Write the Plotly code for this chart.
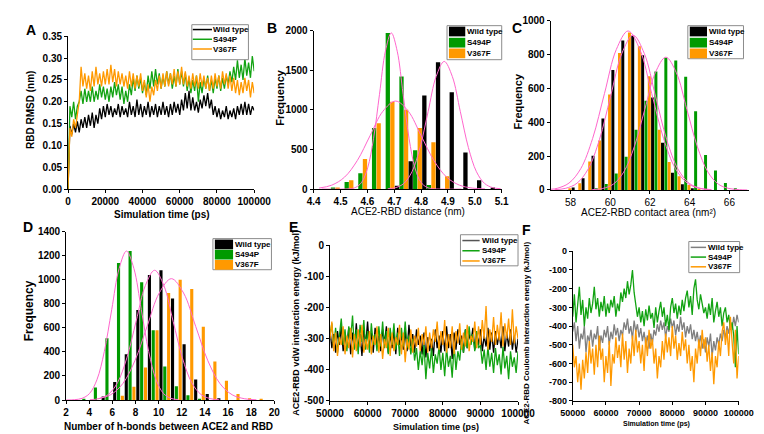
import numpy as np
import plotly.graph_objects as go

W, H = 764, 434
FONT = "Arial, 'Liberation Sans', Helvetica, sans-serif"

C_WT = '#000000'
C_S494P = '#12a312'
C_S494P_BAR = '#009a00'
C_V367F = '#ff9900'
C_FIT = '#ff66cc'
C_WT_F = '#7f7f7f'
C_WT_E_LEG = '#555555'

names = ['Wild type', 'S494P', 'V367F']

# ---------------- Panel A : RBD RMSD (nm), 0..100000 ps ----------------
rmsd_wt = [0.00,
    0.145, 0.125, 0.15, 0.13, 0.155, 0.13, 0.16, 0.14, 0.165, 0.14,
    0.17, 0.145, 0.175, 0.14, 0.17, 0.15, 0.185, 0.16, 0.19, 0.165,
    0.195, 0.17, 0.19, 0.165, 0.185, 0.17, 0.195, 0.165, 0.19, 0.17,
    0.185, 0.165, 0.2, 0.17, 0.19, 0.165, 0.205, 0.17, 0.195, 0.165,
    0.19, 0.17, 0.2, 0.165, 0.19, 0.17, 0.195, 0.165, 0.19, 0.17,
    0.2, 0.17, 0.19, 0.165, 0.195, 0.17, 0.2, 0.175, 0.195, 0.17,
    0.205, 0.18, 0.22, 0.185, 0.225, 0.18, 0.21, 0.18, 0.2, 0.175,
    0.205, 0.185, 0.215, 0.19, 0.22, 0.185, 0.205, 0.17, 0.19, 0.165,
    0.185, 0.16, 0.18, 0.165, 0.19, 0.16, 0.18, 0.165, 0.185, 0.16,
    0.19, 0.17, 0.195, 0.17, 0.2, 0.17, 0.195, 0.17, 0.19, 0.18]
rmsd_s494p = [0.00,
    0.19, 0.165, 0.2, 0.16, 0.19, 0.2, 0.225, 0.195, 0.23, 0.2,
    0.225, 0.2, 0.235, 0.2, 0.225, 0.205, 0.24, 0.21, 0.235, 0.205,
    0.23, 0.2, 0.235, 0.21, 0.245, 0.215, 0.24, 0.205, 0.235, 0.195,
    0.225, 0.2, 0.24, 0.215, 0.255, 0.225, 0.26, 0.23, 0.255, 0.22,
    0.245, 0.215, 0.26, 0.23, 0.27, 0.235, 0.275, 0.24, 0.265, 0.23,
    0.26, 0.235, 0.27, 0.24, 0.265, 0.23, 0.26, 0.235, 0.275, 0.24,
    0.27, 0.235, 0.265, 0.225, 0.255, 0.22, 0.25, 0.225, 0.26, 0.2,
    0.245, 0.22, 0.255, 0.23, 0.26, 0.225, 0.25, 0.22, 0.255, 0.23,
    0.26, 0.225, 0.255, 0.23, 0.26, 0.24, 0.27, 0.245, 0.28, 0.25,
    0.295, 0.255, 0.285, 0.25, 0.3, 0.26, 0.29, 0.255, 0.305, 0.27]
rmsd_v367f = [0.00,
    0.14, 0.12, 0.16, 0.14, 0.175, 0.2, 0.28, 0.235, 0.265, 0.23,
    0.26, 0.225, 0.27, 0.235, 0.28, 0.24, 0.265, 0.235, 0.27, 0.24,
    0.275, 0.24, 0.285, 0.245, 0.275, 0.235, 0.27, 0.24, 0.265, 0.235,
    0.26, 0.23, 0.27, 0.235, 0.265, 0.23, 0.26, 0.235, 0.265, 0.225,
    0.25, 0.21, 0.24, 0.2, 0.235, 0.215, 0.25, 0.225, 0.26, 0.23,
    0.265, 0.235, 0.27, 0.235, 0.265, 0.24, 0.275, 0.235, 0.27, 0.24,
    0.28, 0.24, 0.27, 0.235, 0.26, 0.23, 0.265, 0.235, 0.26, 0.23,
    0.265, 0.235, 0.26, 0.23, 0.255, 0.225, 0.26, 0.23, 0.265, 0.235,
    0.26, 0.23, 0.27, 0.24, 0.265, 0.23, 0.26, 0.225, 0.255, 0.22,
    0.25, 0.215, 0.245, 0.22, 0.255, 0.225, 0.25, 0.21, 0.245, 0.22]
rmsd_t_start, rmsd_t_end = 0, 100000

# ---------------- Panel B : ACE2-RBD distance histogram ----------------
dist_bins = [4.472, 4.523, 4.574, 4.625, 4.676, 4.727, 4.778, 4.829, 4.880, 4.931, 4.982, 5.033, 5.084]
dist_wt = [0, 0, 0, 0, 0, 40, 350, 1180, 1600, 1220, 460, 110, 20]
dist_s494p = [10, 90, 200, 770, 1970, 1420, 490, 50, 0, 0, 0, 0, 0]
dist_v367f = [20, 110, 380, 830, 1100, 1000, 770, 590, 160, 0, 0, 0, 0]
distfit_wt_x = [4.676, 4.706, 4.736, 4.766, 4.796, 4.826, 4.856, 4.886, 4.916, 4.946, 4.976, 5.006, 5.036, 5.066, 5.096]
distfit_wt_y = [4, 18, 71, 218, 523, 976, 1421, 1610, 1421, 976, 523, 218, 71, 18, 4]
distfit_s494p_x = [4.43, 4.535, 4.557, 4.579, 4.601, 4.623, 4.645, 4.667, 4.689, 4.711, 4.733, 4.755, 4.777, 4.799, 4.821, 4.843, 4.95]
distfit_s494p_y = [0, 4, 22, 86, 267, 640, 1195, 1739, 1970, 1739, 1195, 640, 267, 86, 22, 4, 0]
distfit_v367f_x = [4.42, 4.4675, 4.515, 4.5625, 4.61, 4.6575, 4.705, 4.7525, 4.80, 4.8475, 4.895, 4.9425, 4.99, 5.0375]
distfit_v367f_y = [12, 49, 150, 360, 673, 980, 1110, 980, 673, 360, 150, 49, 12, 2]

# ---------------- Panel C : contact area histogram ----------------
area_bins = [57.8, 58.3, 58.8, 59.3, 59.8, 60.3, 60.8, 61.3, 61.8, 62.3, 62.8, 63.3, 63.8, 64.3, 64.8, 65.3, 65.8, 66.3]
area_wt = [0, 15, 69, 203, 423, 709, 883, 912, 797, 546, 280, 102, 34, 10, 0, 0, 0, 0]
area_s494p = [0, 0, 0, 10, 35, 98, 197, 356, 527, 700, 782, 766, 670, 465, 207, 115, 42, 11]
area_v367f = [10, 40, 169, 293, 565, 810, 931, 849, 672, 356, 165, 82, 29, 6, 0, 0, 0, 0]
areafit_wt_x = [57.195, 57.76, 58.325, 58.89, 59.455, 60.02, 60.585, 61.15, 61.715, 62.28, 62.845, 63.41, 63.975, 64.54, 65.105]
areafit_wt_y = [2, 10, 40, 124, 297, 555, 807, 915, 807, 555, 297, 124, 40, 10, 2]
areafit_s494p_x = [59.09, 59.62, 60.15, 60.68, 61.21, 61.74, 62.27, 62.8, 63.33, 63.86, 64.39, 64.92, 65.45, 65.98, 66.51, 66.9]
areafit_s494p_y = [2, 9, 34, 106, 255, 476, 693, 785, 693, 476, 255, 106, 34, 9, 2, 0]
areafit_v367f_x = [57.0, 57.33, 57.925, 58.52, 59.115, 59.71, 60.305, 60.9, 61.495, 62.09, 62.685, 63.28, 63.875, 64.47, 65.065]
areafit_v367f_y = [4, 10, 41, 127, 305, 570, 830, 940, 830, 570, 305, 127, 41, 10, 2]

# ---------------- Panel D : h-bond histogram ----------------
hb_bins = [2.53, 3.53, 4.53, 5.53, 6.53, 7.53, 8.53, 9.53, 10.53, 11.53, 12.53, 13.53, 14.53, 15.53, 16.53, 17.53, 18.53, 19.53]
hb_wt = [0, 0, 0, 30, 150, 380, 750, 1040, 1080, 845, 465, 170, 50, 15, 0, 0, 0, 0]
hb_s494p = [0, 5, 105, 515, 1140, 1240, 980, 580, 280, 115, 40, 5, 0, 0, 0, 0, 0, 0]
hb_v367f = [0, 0, 0, 0, 35, 110, 270, 580, 890, 1000, 925, 610, 320, 160, 50, 15, 3, 0]
hbfit_wt_x = [4.05, 4.85, 5.65, 6.45, 7.25, 8.05, 8.85, 9.65, 10.45, 11.25, 12.05, 12.85, 13.65, 14.45, 15.25]
hbfit_wt_y = [2, 12, 47, 146, 351, 655, 953, 1080, 953, 655, 351, 146, 47, 12, 2]
hbfit_s494p_x = [2.0, 2.74, 3.38, 4.02, 4.66, 5.30, 5.94, 6.58, 7.22, 7.86, 8.5, 9.14, 9.78, 10.42, 11.06, 11.70]
hbfit_s494p_y = [0, 3, 14, 54, 168, 403, 752, 1094, 1240, 1094, 752, 403, 168, 54, 14, 3]
hbfit_v367f_x = [4.8, 5.85, 6.9, 7.95, 9.0, 10.05, 11.1, 12.15, 13.2, 14.25, 15.3, 16.35, 17.4, 18.45]
hbfit_v367f_y = [11, 44, 137, 328, 613, 891, 1010, 891, 613, 328, 137, 44, 11, 2]

# ---------------- Panel E : vdW interaction energy (kJ/mol), 50000..100000 ps ----------------
vdw_wt = [
    -270, -330, -285, -345, -275, -320, -260, -340, -290, -325,
    -265, -350, -280, -330, -250, -335, -285, -355, -270, -320,
    -245, -330, -280, -345, -265, -325, -290, -340, -270, -315,
    -260, -345, -285, -330, -275, -350, -265, -320, -290, -335,
    -275, -340, -255, -325, -285, -345, -270, -320, -290, -350,
    -280, -360, -295, -340, -300, -355, -270, -330, -290, -345,
    -275, -340, -260, -330, -285, -365, -280, -335, -270, -320,
    -290, -345, -270, -330, -285, -310, -265, -335, -280, -320,
    -270, -340, -290, -325, -265, -335, -280, -345, -275, -320,
    -285, -330, -260, -340, -280, -325, -270, -335, -290, -345,
    -300]
vdw_s494p = [
    -290, -250, -330, -265, -345, -280, -235, -320, -270, -340,
    -260, -300, -225, -335, -270, -350, -255, -310, -240, -335,
    -275, -345, -250, -320, -285, -340, -260, -325, -245, -330,
    -275, -350, -265, -320, -250, -335, -280, -355, -265, -325,
    -245, -330, -290, -350, -300, -370, -330, -400, -340, -385,
    -320, -430, -345, -395, -330, -410, -350, -380, -325, -400,
    -345, -420, -330, -390, -355, -425, -320, -400, -340, -370,
    -300, -345, -270, -330, -260, -320, -285, -340, -275, -330,
    -320, -380, -335, -400, -325, -390, -345, -410, -330, -385,
    -350, -415, -325, -395, -355, -430, -340, -390, -360, -410,
    -340]
vdw_v367f = [
    -300, -245, -340, -280, -355, -295, -320, -260, -350, -290,
    -330, -265, -360, -285, -340, -270, -325, -255, -345, -300,
    -335, -275, -350, -290, -320, -260, -345, -285, -365, -300,
    -330, -265, -355, -280, -340, -295, -320, -255, -350, -280,
    -375, -300, -335, -270, -345, -290, -325, -265, -340, -285,
    -320, -260, -345, -280, -330, -270, -310, -245, -335, -275,
    -320, -240, -345, -285, -330, -260, -350, -275, -315, -250,
    -335, -280, -325, -255, -340, -290, -310, -245, -330, -260,
    -320, -240, -300, -195, -335, -270, -310, -230, -320, -255,
    -305, -215, -325, -250, -300, -235, -320, -205, -315, -260,
    -300]

# ---------------- Panel F : Coulomb interaction energy (kJ/mol), 50000..100000 ps ----------------
coul_wt = [
    -430, -380, -480, -400, -520, -440, -470, -400, -540, -450,
    -480, -420, -510, -440, -470, -400, -530, -450, -490, -420,
    -460, -400, -500, -430, -470, -390, -450, -410, -480, -420,
    -450, -380, -420, -360, -440, -400, -470, -370, -430, -390,
    -460, -410, -480, -430, -500, -450, -520, -440, -490, -420,
    -450, -390, -430, -370, -420, -380, -460, -400, -430, -360,
    -410, -370, -450, -390, -430, -350, -420, -380, -460, -400,
    -440, -390, -470, -420, -480, -430, -500, -450, -520, -470,
    -540, -460, -510, -440, -560, -480, -530, -460, -500, -440,
    -480, -420, -460, -400, -440, -380, -420, -350, -400, -340,
    -380]
coul_s494p = [
    -350, -230, -380, -280, -190, -340, -260, -400, -300, -360,
    -250, -330, -280, -190, -310, -250, -350, -270, -320, -240,
    -350, -280, -330, -260, -300, -240, -350, -280, -320, -220,
    -270, -200, -250, -160, -230, -180, -100, -220, -280, -350,
    -300, -380, -320, -400, -310, -370, -290, -360, -330, -410,
    -300, -380, -320, -270, -350, -300, -400, -340, -420, -300,
    -250, -330, -280, -360, -290, -340, -260, -320, -250, -210,
    -300, -240, -340, -200, -150, -260, -310, -230, -280, -330,
    -300, -360, -280, -340, -250, -380, -320, -270, -350, -300,
    -400, -330, -300, -380, -340, -420, -380, -450, -620, -400,
    -550]
coul_v367f = [
    -500, -620, -560, -700, -600, -740, -580, -680, -540, -650,
    -480, -600, -520, -660, -500, -620, -450, -580, -520, -700,
    -560, -650, -480, -720, -550, -600, -460, -570, -500, -620,
    -440, -580, -480, -650, -520, -600, -450, -560, -420, -540,
    -480, -600, -500, -640, -460, -560, -420, -520, -470, -600,
    -520, -680, -560, -620, -480, -580, -440, -540, -460, -560,
    -400, -520, -450, -580, -490, -560, -430, -530, -470, -600,
    -500, -640, -560, -700, -520, -600, -470, -560, -420, -520,
    -460, -590, -500, -640, -540, -710, -560, -620, -480, -560,
    -430, -380, -500, -420, -560, -350, -480, -600, -420, -680,
    -560]
energy_t_start, energy_t_end = 50000, 100000

# tick labels
e_yticks = [0, -100, -200, -300, -400, -500]
e_yticktext = ['0', '-100', '-200', '-300', '-400', '-500']
f_yticks = [0, -100, -200, -300, -400, -500, -600, -700, -800]
f_yticktext = ['0', '-100', '-200', '-300', '-400', '-500', '-600', '-700', '-800']

# ---------------- figure ----------------
def fx(p):
    return p / W


def fy(p):
    return 1 - p / H


fig = go.Figure()
LW = 1.3

t_a = np.linspace(rmsd_t_start, rmsd_t_end, len(rmsd_wt))
for ys, col in [(rmsd_wt, C_WT), (rmsd_s494p, C_S494P), (rmsd_v367f, C_V367F)]:
    fig.add_trace(go.Scatter(x=t_a, y=ys, mode='lines', line=dict(color=col, width=LW),
                             xaxis='x', yaxis='y', showlegend=False))


def add_hist(bins, vals, xa, ya, width, offsets):
    cols = [C_WT, C_S494P_BAR, C_V367F]
    for v, c, o in zip(vals, cols, offsets):
        fig.add_trace(go.Bar(x=bins, y=v, width=width, offset=o, marker=dict(color=c, line=dict(width=0)),
                             xaxis=xa, yaxis=ya, showlegend=False))


def add_fits(pairs, xa, ya):
    for xs, ys in pairs:
        fig.add_trace(go.Scatter(x=xs, y=ys, mode='lines', line=dict(color=C_FIT, width=1, shape='spline'),
                                 xaxis=xa, yaxis=ya, showlegend=False))


wb = 0.016
add_hist(dist_bins, [dist_wt, dist_s494p, dist_v367f], 'x2', 'y2', wb, [-0.017 - wb / 2, -wb / 2, 0.017 - wb / 2])
add_fits([(distfit_s494p_x, distfit_s494p_y), (distfit_v367f_x, distfit_v367f_y), (distfit_wt_x, distfit_wt_y)], 'x2', 'y2')

wc = 0.15
add_hist(area_bins, [area_wt, area_s494p, area_v367f], 'x3', 'y3', wc, [-0.167 - wc / 2, -wc / 2, 0.167 - wc / 2])
add_fits([(areafit_v367f_x, areafit_v367f_y), (areafit_wt_x, areafit_wt_y), (areafit_s494p_x, areafit_s494p_y)], 'x3', 'y3')

wd = 0.27
add_hist(hb_bins, [hb_wt, hb_s494p, hb_v367f], 'x4', 'y4', wd, [-0.33 - wd / 2, -wd / 2, 0.33 - wd / 2])
add_fits([(hbfit_s494p_x, hbfit_s494p_y), (hbfit_wt_x, hbfit_wt_y), (hbfit_v367f_x, hbfit_v367f_y)], 'x4', 'y4')

t_e = np.linspace(energy_t_start, energy_t_end, len(vdw_wt))
for ys, col in [(vdw_wt, C_WT), (vdw_s494p, C_S494P), (vdw_v367f, C_V367F)]:
    fig.add_trace(go.Scatter(x=t_e, y=ys, mode='lines', line=dict(color=col, width=LW),
                             xaxis='x5', yaxis='y5', showlegend=False))
t_f = np.linspace(energy_t_start, energy_t_end, len(coul_wt))
for ys, col in [(coul_wt, C_WT_F), (coul_s494p, C_S494P), (coul_v367f, C_V367F)]:
    fig.add_trace(go.Scatter(x=t_f, y=ys, mode='lines', line=dict(color=col, width=LW),
                             xaxis='x6', yaxis='y6', showlegend=False))

bold10 = dict(family=FONT, size=10, color='black', weight='bold')
bold9 = dict(family=FONT, size=9, color='black', weight='bold')
reg10 = dict(family=FONT, size=10, color='black')


def axis(dom, rng, anchor, font, **kw):
    d = dict(domain=dom, range=rng, anchor=anchor, showline=True, linecolor='black', linewidth=1,
             ticks='outside', ticklen=3, tickwidth=1, tickcolor='black', showgrid=False, zeroline=False,
             tickfont=font, fixedrange=True)
    d.update(kw)
    return d


panels = [
    # (suffix, xpix, ypix, xrange, yrange, xkw, ykw, xfont, yfont)
    ('', (48, 242), (23, 180), [0, 100000], [0, 0.35],
     dict(dtick=20000, tick0=0, tickformat='d'), dict(dtick=0.05, tick0=0, tickformat='.2f'), bold10, bold10),
    ('2', (304, 500), (17, 180), [4.4, 5.1], [0, 2000],
     dict(dtick=0.1, tick0=4.4, tickformat='.1f'), dict(dtick=500, tick0=0), bold10, bold10),
    ('3', (551, 758), (7, 181), [57, 67], [0, 1000],
     dict(dtick=2, tick0=58), dict(dtick=200, tick0=0), reg10, bold10),
    ('4', (46, 263), (224, 397), [2, 20], [0, 1400],
     dict(dtick=2, tick0=2), dict(dtick=200, tick0=0), bold10, bold10),
    ('5', (321, 517), (238, 398), [50000, 100000], [-500, 0],
     dict(dtick=10000, tick0=50000, tickformat='d'), dict(tickvals=e_yticks, ticktext=e_yticktext), bold10, bold10),
    ('6', (574, 747), (244, 398), [50000, 100000], [-800, 0],
     dict(dtick=10000, tick0=50000, tickformat='d'), dict(tickvals=f_yticks, ticktext=f_yticktext), bold9, bold9),
]
lay = {}
for s, xp, ypx, xr, yr, xkw, ykw, xfont, yfont in panels:
    lay['xaxis' + s] = axis([fx(xp[0]), fx(xp[1])], xr, 'y' + s, xfont, **xkw)
    lay['yaxis' + s] = axis([fy(ypx[1]), fy(ypx[0])], yr, 'x' + s, yfont, **ykw)

shapes = []
annotations = []


def text(x, y, s, size, bold=True, angle=0, xanchor='center'):
    f = dict(family=FONT, size=size, color='black')
    if bold:
        f['weight'] = 'bold'
    annotations.append(dict(x=fx(x), y=fy(y), xref='paper', yref='paper', text=s, showarrow=False,
                            font=f, textangle=angle, xanchor=xanchor, yanchor='middle'))


def legend(box, rows, sw, tx, cols, kind, size=8):
    shapes.append(dict(type='rect', xref='paper', yref='paper', x0=fx(box[0]), x1=fx(box[2]),
                       y0=fy(box[3]), y1=fy(box[1]), line=dict(color='#8c8c8c', width=1),
                       fillcolor='white', layer='above'))
    for yc, c, n in zip(rows, cols, names):
        if kind == 'line':
            shapes.append(dict(type='line', xref='paper', yref='paper', x0=fx(sw[0]), x1=fx(sw[1]),
                               y0=fy(yc), y1=fy(yc), line=dict(color=c, width=1.5), layer='above'))
        else:
            shapes.append(dict(type='rect', xref='paper', yref='paper', x0=fx(sw[0]), x1=fx(sw[1]),
                               y0=fy(yc + 5), y1=fy(yc - 5), line=dict(width=0), fillcolor=c, layer='above'))
        text(tx, yc, n, size, xanchor='left')


legend((177, 11, 236, 47), (16, 26, 36), (178, 198), 197, [C_WT, C_S494P, C_V367F], 'line')
legend((443, 12, 500, 47), (18, 29.5, 40.5), (445, 462), 462, [C_WT, C_S494P_BAR, C_V367F], 'bar')
legend((694, 12, 752, 46), (18, 29.5, 40.5), (696, 714), 714, [C_WT, C_S494P_BAR, C_V367F], 'bar')
legend((199, 231, 260, 263), (237, 247.5, 258), (201, 220), 220, [C_WT, C_S494P_BAR, C_V367F], 'bar')
legend((457, 227, 517, 259), (233, 243.5, 254), (459, 477), 477, [C_WT_E_LEG, C_S494P, C_V367F], 'line')
legend((695, 234, 748, 266), (240, 250, 260), (697, 713), 713, [C_WT_F, C_S494P, C_V367F], 'line', size=8)

# panel letters
for (x, y, s) in [(9, 16, 'A'), (261, 14, 'B'), (516, 14, 'C'), (6, 219, 'D'), (283, 219, 'E'), (526, 222, 'F')]:
    text(x, y, s, 14)

# axis titles
text(146, 206, 'Simulation time (ps)', 10)
text(9, 99, 'RBD RMSD (nm)', 10, angle=-90)
text(402, 203, 'ACE2-RBD distance (nm)', 10, bold=False)
text(268, 86, 'Frequency', 11, angle=-90)
text(653, 204, 'ACE2-RBD contact area (nm²)', 10, bold=False)
text(516, 90, 'Frequency', 11, angle=-90)
text(153, 424, 'Number of h-bonds between ACE2 and RBD', 10)
text(7, 305, 'Frequency', 12, angle=-90)
text(432, 425, 'Simulation time (ps)', 9)
text(286, 317, 'ACE2-RBD vdW interaction energy (kJ/mol)', 9, angle=-90)
text(661, 422, 'Simulation time (ps)', 7)
text(526, 328, 'ACE2-RBD Coulomb interaction energy (kJ/mol)', 8, angle=-90)

fig.update_layout(width=W, height=H, margin=dict(l=0, r=0, t=0, b=0), paper_bgcolor='white',
                  plot_bgcolor='white', showlegend=False, barmode='overlay',
                  font=dict(family=FONT, color='black'), shapes=shapes, annotations=annotations, **lay)

fig.write_html("out.html")
